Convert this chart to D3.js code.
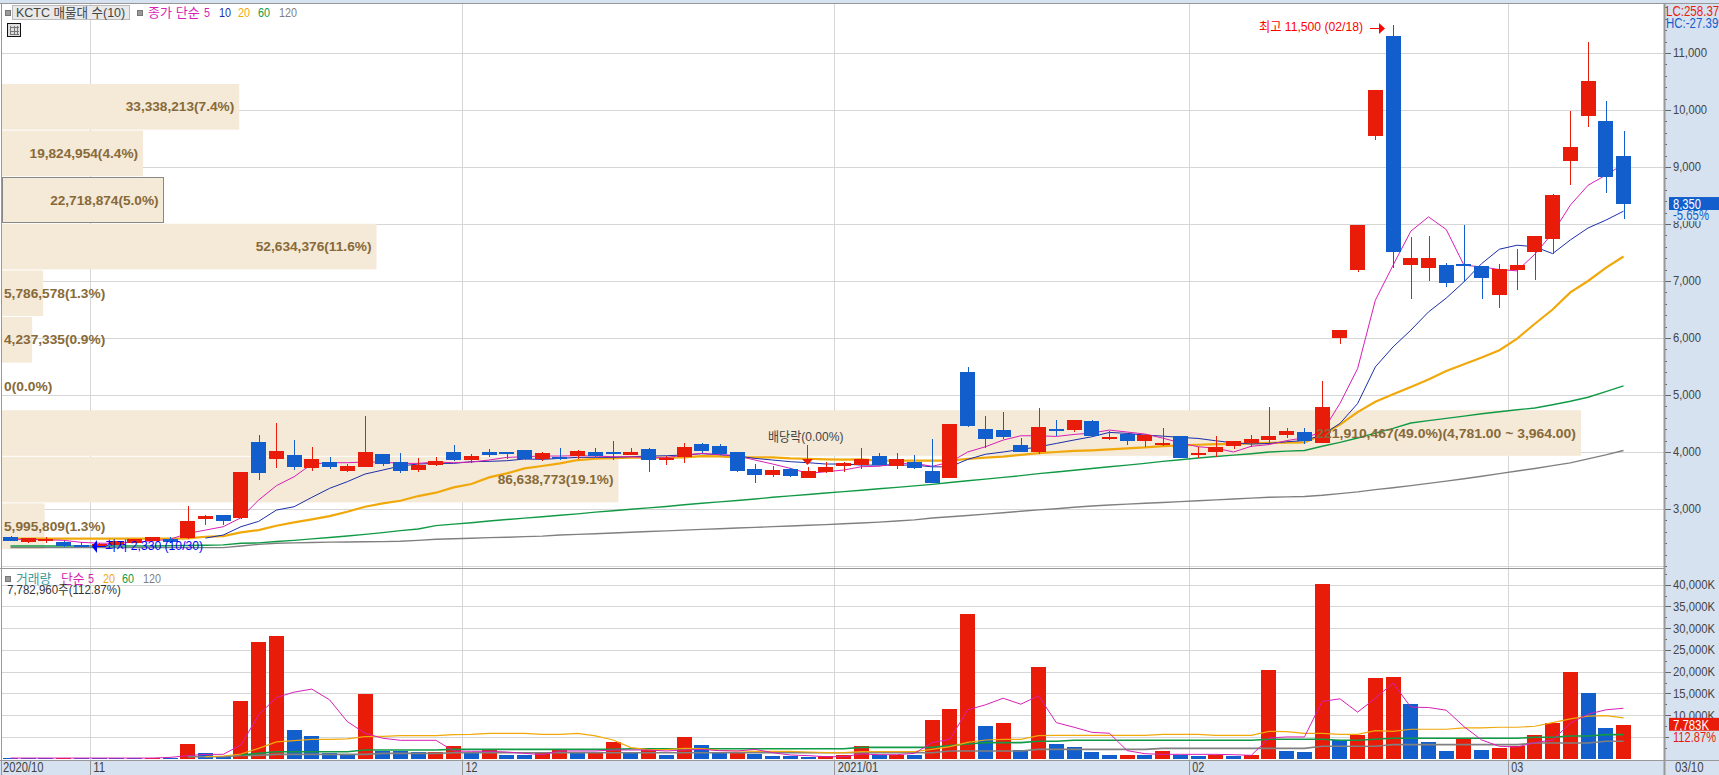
<!DOCTYPE html>
<html><head><meta charset="utf-8">
<script src="https://cdnjs.cloudflare.com/ajax/libs/d3/7.8.5/d3.min.js"></script>
<style>
html,body{margin:0;padding:0;background:#fff;overflow:hidden}
svg{display:block}
text{font-family:"Liberation Sans","Noto Sans CJK KR",sans-serif}
</style></head><body><svg id="c" width="1719" height="775"></svg>
<script>
const open=[2509,2421,2445,2427,2369,2370,2369,2404,2445,2473,2490,2824,2894,2841,4175,3877,3947,3719,3824,3666,3736,3964,3824,3683,3771,4000,3859,4000,4000,4035,3877,3912,3929,4000,4000,3947,4052,3859,3912,4140,4105,4000,3701,3596,3701,3543,3648,3754,3771,3930,3754,3824,3667,3544,5402,4402,4385,4121,4000,4402,4385,4542,4227,4315,4191,4121,4279,3950,4000,4104,4158,4210,4298,4350,4158,5996,7190,9541,11296,7277,7225,7277,7295,7260,6751,7190,7510,7738,9102,9892,9804,9190];
const close=[2445,2486,2480,2351,2340,2385,2439,2468,2509,2421,2788,2876,2788,3648,3631,4017,3736,3877,3736,3754,4000,3789,3666,3771,3842,3859,3929,3947,3988,3877,3982,3877,4017,3929,3964,4000,3859,3894,4087,4017,3964,3666,3596,3684,3578,3666,3736,3807,3877,3770,3877,3720,3456,4490,4455,4227,4262,4000,4437,4367,4560,4279,4262,4191,4297,4156,3895,3980,4085,4191,4228,4280,4368,4193,4781,6137,7979,10349,7505,7400,7400,6961,7260,7049,7207,7277,7790,8509,9348,10506,8822,8350];
const high=[2520,2500,2510,2430,2420,2400,2445,2475,2515,2508,3052,2894,2894,3648,4298,4508,4210,4087,3912,3789,4631,3964,3982,3894,3912,4122,3964,4052,4005,4035,4000,4070,4035,4070,4192,4070,4070,3929,4157,4157,4140,4000,3789,3754,3719,3736,3824,3824,4063,3985,3987,3950,4227,4490,5490,4630,4700,4244,4771,4560,4560,4560,4367,4315,4315,4420,4279,4085,4279,4191,4298,4781,4420,4420,5241,6137,7979,10349,11500,7769,7786,7312,7979,7260,7295,7558,7790,8530,9980,11191,10155,9629];
const low=[2440,2400,2400,2340,2330,2350,2360,2400,2440,2410,2480,2718,2718,2824,3508,3719,3683,3666,3701,3648,3736,3754,3631,3648,3754,3842,3806,3912,3877,3859,3842,3859,3877,3912,3859,3947,3648,3771,3806,3982,3947,3648,3455,3561,3561,3543,3631,3648,3702,3770,3702,3702,3456,3544,4437,4063,4227,4000,3965,4279,4350,4279,4209,4121,4086,4104,3895,3895,3912,4044,4088,4140,4245,4140,4158,5891,7154,9471,7230,6680,6996,6891,6985,6680,6523,6838,7010,7470,8681,9699,8541,8085];

const ma5=[2468,2468,2460,2450,2415,2400,2398,2421,2440,2468,2572,2630,2689,2847,3157,3409,3566,3789,3812,3812,3824,3824,3800,3800,3824,3812,3824,3859,3906,3917,3929,3929,3935,3929,3917,3917,3900,3900,3947,3976,3953,3935,3859,3789,3713,3625,3654,3683,3742,3750,3800,3800,3750,3820,4000,4092,4209,4285,4285,4273,4308,4332,4385,4350,4315,4244,4162,4092,4069,4000,4100,4130,4200,4250,4350,4850,5464,6663,7277,7874,8125,7903,7277,7248,7201,7178,7470,7840,8330,8680,8857,9050];
const ma10=[null,null,null,null,null,null,null,null,null,null,null,2490,2543,2689,2783,2981,3040,3204,3362,3479,3613,3683,3754,3789,3800,3800,3830,3836,3847,3877,3871,3888,3906,3906,3906,3917,3929,3935,3947,3970,3953,3929,3888,3859,3830,3812,3789,3789,3771,3770,3770,3770,3740,3740,3870,3960,4000,4045,4090,4150,4210,4267,4344,4326,4297,4279,4256,4238,4197,4160,4140,4150,4180,4200,4300,4500,4850,5493,5844,6137,6458,6700,6985,7307,7558,7628,7600,7480,7720,7930,8067,8225];
const ma20=[2480,2480,2480,2480,2480,2480,2480,2480,2480,2480,2484,2513,2525,2590,2630,2706,2765,2818,2876,2952,3040,3098,3145,3227,3286,3379,3438,3555,3625,3713,3754,3800,3859,3882,3894,3900,3900,3900,3906,3929,3923,3906,3906,3906,3888,3882,3871,3865,3871,3850,3850,3850,3850,3850,3880,3900,3920,3950,3980,4000,4020,4030,4045,4063,4080,4104,4115,4127,4139,4140,4150,4160,4165,4170,4300,4480,4700,4880,5013,5142,5270,5423,5540,5657,5786,5990,6250,6500,6800,7000,7230,7430];
const ma60=[2351,2351,2351,2351,2351,2351,2351,2351,2352,2355,2360,2365,2370,2398,2405,2430,2450,2475,2500,2527,2555,2585,2620,2650,2708,2735,2760,2790,2815,2840,2865,2890,2915,2945,2970,2995,3020,3045,3075,3100,3125,3150,3175,3205,3230,3255,3280,3305,3330,3355,3380,3405,3432,3465,3495,3525,3555,3585,3620,3650,3680,3710,3740,3770,3800,3835,3865,3895,3920,3945,3970,4000,4015,4026,4100,4170,4245,4330,4415,4509,4550,4590,4630,4670,4705,4740,4772,4830,4890,4960,5060,5160];
const ma120=[2322,2322,2322,2322,2322,2322,2322,2322,2322,2322,2322,2322,2322,2350,2380,2398,2405,2412,2418,2420,2425,2427,2435,2450,2468,2478,2488,2497,2505,2515,2525,2544,2555,2567,2580,2592,2605,2617,2630,2642,2654,2666,2678,2690,2702,2714,2726,2740,2755,2770,2790,2810,2842,2865,2885,2910,2935,2960,2985,3005,3030,3053,3070,3085,3100,3115,3130,3145,3160,3175,3190,3205,3212,3219,3240,3270,3300,3340,3374,3410,3450,3490,3530,3575,3620,3667,3710,3760,3810,3880,3950,4026];

const volume=[150,120,120,200,150,150,150,150,120,220,3385,1230,540,13300,26800,28200,6600,5230,1300,900,14900,1850,1850,1540,1540,2900,1300,2150,850,850,1300,2150,1540,1540,3850,1230,1900,850,5000,3150,1540,1540,1080,620,620,400,620,850,2900,920,920,850,8900,11450,33260,7540,8300,1900,21150,3400,2700,1540,850,850,850,1770,850,620,920,620,770,20450,1770,1540,40200,4300,5460,18600,18850,12600,3850,1770,4600,2000,2460,2900,5460,8230,20000,15150,7080,7783];
const volumeDir="BBBRBBBBRBRBBRRRBBBBRBBBRRBRBBRRBRRBRBRBBRBBBBRRRBRBRRRBRBRBBBBRBRBBRBRRBBRBRRRBBBRBRRRRRBBR".slice(0,92).split("");
const volMa5=[150,150,150,150,150,150,150,150,150,300,700,1000,1000,3150,10070,14070,15300,16000,13540,8540,5850,4700,4230,4230,4230,1770,1700,1700,1540,1230,920,1770,1770,1770,2000,2000,2000,1770,2000,2150,1850,1770,2150,1380,850,700,460,460,1080,920,920,1230,3700,4460,11230,12380,13900,12530,14460,8300,7230,6070,5850,1850,1150,1000,1000,1000,1000,920,770,4770,5000,5000,13150,13770,10700,13900,17400,11850,11770,11150,7380,4300,2850,2700,3700,4300,8150,10230,11230,11600];
const volMa20=[null,null,null,null,null,null,null,null,null,null,null,460,620,1080,2380,3850,4150,4460,4460,4540,5080,5150,5300,5300,5300,5540,5610,5840,5840,5840,5610,5610,5840,5230,4300,2540,2080,2080,2380,2300,1920,1770,1690,1690,1690,1540,1380,1380,1610,1610,1610,1610,2150,2770,3770,4300,4460,4460,5300,5380,5380,5380,5380,5380,5380,5610,5610,5610,5380,5380,5380,6300,6230,5840,5840,5610,5610,6460,6300,6770,6770,6770,7070,7070,7230,7230,7460,8300,9150,9770,9920,9380];
const volMa60=[null,null,null,null,null,null,null,null,null,null,null,null,null,850,1230,1610,1610,1610,1610,1610,2000,2000,2000,2000,2000,2150,2150,2150,2150,2150,2150,2150,2150,2150,2150,2300,2300,2300,2300,2300,2300,2300,2300,2300,2300,2300,2300,2300,2610,2610,2610,2610,2610,3000,3380,3690,3690,3690,4000,4000,4230,4230,4230,4230,4230,4230,4230,4230,4230,4230,4230,4460,4460,4460,4460,4230,4230,4460,4690,4690,4690,4690,4690,4690,4690,4690,4920,4920,5230,5230,5540,5540];
const volMa120=[null,null,null,null,null,null,null,null,null,null,460,460,460,770,770,1000,1000,1000,1000,1000,1000,1230,1230,1230,1230,1380,1380,1380,1380,1380,1380,1380,1380,1380,1380,1380,1380,1380,1380,1380,1380,1380,1380,1380,1380,1380,1380,1380,1380,1380,1380,1380,1380,1770,1770,1770,1770,1770,2150,2150,2150,2150,2150,2150,2150,2380,2380,2380,2380,2380,2380,2380,2380,2380,2850,2850,2850,2850,3230,3230,3230,3230,3230,3230,3230,3230,3610,3610,3610,3610,4000,4000];

const profileVolume=[33338213,19824954,22718874,52634376,5786578,4237335,0,221910467,86638773,5995809];
const profilePercent=["7.4","4.4","5.0","11.6","1.3","0.9","0.0","49.0","19.1","1.3"];
const profileTop=[10456,9639,8821,8004,7186,6368,5551,4733,3916,3098];
const profileSuffix=["","","","","","","","(4,781.00 ~ 3,964.00)","",""];
const profileStep=817.6;

const priceTicks=[11000,10000,9000,8000,7000,6000,5000,4000,3000];
const priceMinor=d3.range(2000,11801,200);
const volTicks=[40000,35000,30000,25000,20000,15000,10000,5000];
const volMinor=d3.range(2500,42501,2500);
const monthIdx=[5,26,47,67,85];
const monthLabels=["11","12","2021/01","02","03"];
const priceLegend=[["종가 단순","#d81fb4",148],["5","#d81fb4",204],["10","#1c2fa8",219],["20","#f0a80a",238],["60","#119a45",258],["120","#808080",279]];
const volLegend=[["거래량","#3a9a9c",16],["단순","#d81fb4",61],["5","#d81fb4",88],["20","#f0a80a",103],["60","#119a45",122],["120","#808080",143]];

const RED="#e91c0a",BLUE="#125ecc",GRID="#d6d6d6",PANEL="#d7e2f0",AX="#989898";
const svg=d3.select("#c");
const idx=d3.range(92);
const x=d3.scalePoint().domain(idx).range([10.5,1623.5]);
const step=x.step(), bw=15;
const y=d3.scaleLinear().domain([11000,3000]).range([53,509]);
const yv=d3.scaleLinear().domain([0,40000]).range([758.7,584.7]);
const px=d3.scaleLinear().domain([0,221910467]).range([2,1581]);
const R=1664;

svg.append("rect").attr("x",0).attr("y",0).attr("width",1719).attr("height",775).attr("fill","#fff");
svg.append("rect").attr("x",0).attr("y",0).attr("width",1719).attr("height",3).attr("fill",PANEL);
svg.append("rect").attr("x",R).attr("y",3).attr("width",55).attr("height",772).attr("fill",PANEL);
svg.append("rect").attr("x",0).attr("y",760).attr("width",1719).attr("height",15).attr("fill",PANEL);

// grid
const g=svg.append("g").attr("shape-rendering","crispEdges").attr("stroke",GRID).attr("stroke-width",1);
[...priceTicks,2000].forEach(t=>g.append("line").attr("x1",2).attr("x2",R).attr("y1",Math.round(y(t))+.5).attr("y2",Math.round(y(t))+.5));
volTicks.forEach(t=>g.append("line").attr("x1",2).attr("x2",R).attr("y1",Math.round(yv(t))+.5).attr("y2",Math.round(yv(t))+.5));
monthIdx.forEach(i=>g.append("line").attr("x1",x(i)-step/2).attr("x2",x(i)-step/2).attr("y1",3).attr("y2",760));

// volume profile
const prof=svg.append("g");
prof.selectAll("rect").data(profileVolume).join("rect")
 .attr("x",2).attr("y",(d,i)=>y(profileTop[i])).attr("width",d=>px(d)-2)
 .attr("height",(d,i)=>y(profileTop[i]-profileStep)-y(profileTop[i])-1).attr("fill","#f5e9d8");
prof.append("rect").attr("x",2).attr("y",y(profileTop[2])).attr("width",px(profileVolume[2])-2)
 .attr("height",y(profileTop[2]-profileStep)-y(profileTop[2])-1).attr("fill","none").attr("stroke","#888").attr("shape-rendering","crispEdges");

// price MAs
const line=(yy)=>d3.line().defined(d=>d!==null).x((d,i)=>x(i)).y(d=>yy(d));
const lines=svg.append("g").attr("fill","none");
[[ma120,"#808080",1.4],[ma60,"#119a45",1.4],[ma20,"#f0a80a",2.2],[ma10,"#1c2fa8",1],[ma5,"#d81fb4",1]].forEach(([a,c,w])=>{
 lines.append("path").attr("d",line(y)(a)).attr("stroke",c).attr("stroke-width",w);
});

// candles
const cs=svg.append("g").attr("shape-rendering","crispEdges");
idx.forEach(i=>{
 const up=close[i]>=open[i], c=up?RED:BLUE;
 const t=y(Math.max(open[i],close[i])), b=y(Math.min(open[i],close[i]));
 cs.append("line").attr("x1",Math.round(x(i))+.5).attr("x2",Math.round(x(i))+.5).attr("y1",y(high[i])).attr("y2",y(low[i])).attr("stroke",c).attr("stroke-width",1);
 cs.append("rect").attr("x",x(i)-bw/2).attr("y",t).attr("width",bw).attr("height",Math.max(1.5,b-t)).attr("fill",c);
});

// profile labels
const fmt=d3.format(",");
const narrowBar=d=>px(d)<110;
svg.append("g").selectAll("text").data(profileVolume).join("text")
 .attr("x",d=>narrowBar(d)?4:px(d)-5).attr("y",(d,i)=>(y(profileTop[i])+y(profileTop[i]-profileStep))/2+4)
 .attr("text-anchor",d=>narrowBar(d)?"start":"end")
 .attr("font-size",13).attr("font-weight","bold").attr("fill","#876a38")
 .text((d,i)=>fmt(d)+"("+profilePercent[i]+"%)"+profileSuffix[i]);

// volume bars
const vb=svg.append("g").attr("shape-rendering","crispEdges");
vb.selectAll("rect").data(volume).join("rect")
 .attr("x",(d,i)=>x(i)-bw/2).attr("width",bw).attr("y",d=>yv(d)).attr("height",d=>yv(0)-yv(d))
 .attr("fill",(d,i)=>volumeDir[i]==="R"?RED:BLUE);
const vl=svg.append("g").attr("fill","none");
[[volMa120,"#808080",1.6],[volMa60,"#119a45",1.6],[volMa20,"#f0a80a",1.2],[volMa5,"#d81fb4",1]].forEach(([a,c,w])=>{
 vl.append("path").attr("d",line(yv)(a)).attr("stroke",c).attr("stroke-width",w);
});

// frame
const fr=svg.append("g").attr("shape-rendering","crispEdges").attr("stroke",AX);
fr.append("line").attr("x1",0).attr("x2",1719).attr("y1",3.5).attr("y2",3.5);
fr.append("line").attr("x1",1.5).attr("x2",1.5).attr("y1",3).attr("y2",775);
fr.append("line").attr("x1",0).attr("x2",R).attr("y1",568.5).attr("y2",568.5).attr("stroke-width",1.5);
fr.append("line").attr("x1",0).attr("x2",1719).attr("y1",760.5).attr("y2",760.5);

// axes
function styleAxis(s){s.select(".domain").remove();s.selectAll("line").attr("stroke","#666").attr("shape-rendering","crispEdges");
 s.selectAll("text").attr("fill","#444").attr("font-size",12.4);}
const gp=svg.append("g").attr("transform",`translate(${R},0)`);
gp.append("g").call(d3.axisRight(y).tickValues(priceMinor).tickSize(3).tickFormat("")).call(styleAxis);
gp.append("g").call(d3.axisRight(y).tickValues(priceTicks).tickSize(7).tickPadding(2).tickFormat(d3.format(","))).call(styleAxis);
const gv=svg.append("g").attr("transform",`translate(${R},0)`);
gv.append("g").call(d3.axisRight(yv).tickValues(volMinor).tickSize(3).tickFormat("")).call(styleAxis);
gv.append("g").call(d3.axisRight(yv).tickValues(volTicks).tickSize(7).tickPadding(2).tickFormat(d=>d3.format(",")(d)+"K")).call(styleAxis);
svg.selectAll("g[font-family]").attr("font-family",null).attr("font-size",null);
svg.append("line").attr("x1",R+.5).attr("x2",R+.5).attr("y1",3).attr("y2",775).attr("stroke",AX).attr("stroke-width",2);

// date axis
const tx=(s,xx,yy,c,fs)=>svg.append("text").attr("x",xx).attr("y",yy).attr("fill",c).attr("font-size",fs||14).text(s);
tx("2020/10",3,772,"#444");
monthIdx.forEach((m,k)=>{const xx=x(m)-step/2;
 svg.append("line").attr("x1",xx).attr("x2",xx).attr("y1",760).attr("y2",775).attr("stroke",AX).attr("shape-rendering","crispEdges");
 tx(monthLabels[k],xx+3,772,"#444");});
tx("03/10",1675,772,"#444");

// value boxes
const lastPriceY=y(close[91]);
svg.append("rect").attr("x",1669).attr("y",lastPriceY-7).attr("width",50).attr("height",13).attr("fill",BLUE);
tx(d3.format(",")(close[91]),1673,lastPriceY+4.5,"#fff",14);
svg.append("rect").attr("x",1669).attr("y",lastPriceY+6).attr("width",50).attr("height",11).attr("fill",PANEL);
tx("-5.65%",1673,lastPriceY+16,"#125ecc",14);
const lastVolY=yv(volume[91]);
svg.append("rect").attr("x",1669).attr("y",lastVolY-7).attr("width",50).attr("height",13).attr("fill",RED);
tx("7,783K",1673,lastVolY+5,"#fff",14);
svg.append("rect").attr("x",1669).attr("y",lastVolY+6).attr("width",50).attr("height",12).attr("fill",PANEL);
tx("112.87%",1673,lastVolY+17,"#e91c0a",14);
tx("LC:258.37%",1666,16,"#e91c0a",14);
tx("HC:-27.39%",1666,28,"#125ecc",14);

// legend
const sq=(xx,yy)=>svg.append("rect").attr("x",xx).attr("y",yy).attr("width",5).attr("height",5).attr("fill","#999").attr("stroke","#777").attr("shape-rendering","crispEdges");
sq(5.5,10.5);
svg.append("rect").attr("x",12.5).attr("y",5.5).attr("width",117).attr("height",14).attr("fill","#e9e9e9").attr("stroke","#bbb").attr("shape-rendering","crispEdges");
tx("KCTC 매물대 수(10)",16,17,"#444",13);
sq(137.5,10.5);
priceLegend.forEach(([s,c,xx])=>tx(s,xx,17,c,13));
sq(5.5,576.5);
volLegend.forEach(([s,c,xx])=>tx(s,xx,583,c,13));
tx("7,782,960주(112.87%)",7,594,"#333",13);

// icon
const ic=svg.append("g").attr("shape-rendering","crispEdges");
ic.append("rect").attr("x",7.5).attr("y",23.5).attr("width",13).attr("height",13).attr("fill","#ddd").attr("stroke","#111");
[[9.5,26.5,9,1],[9.5,30.5,9,1],[9.5,34,9,1]].forEach(a=>ic.append("rect").attr("x",a[0]).attr("y",a[1]).attr("width",a[2]).attr("height",a[3]).attr("fill","#777"));
[10,13.5,17].forEach(v=>ic.append("rect").attr("x",v).attr("y",26).attr("width",1).attr("height",9).attr("fill","#777"));

// annotations
tx("최고 11,500 (02/18)",1259,31,"#f00",13);
svg.append("line").attr("x1",1370).attr("x2",1380).attr("y1",28.5).attr("y2",28.5).attr("stroke","#f00");
svg.append("path").attr("d","M1379,23L1385,28.5L1379,34Z").attr("fill","#f00");
tx("최저 2,330 (10/30)",105,550,"#00f",13);
svg.append("line").attr("x1",96).attr("x2",106).attr("y1",546.5).attr("y2",546.5).attr("stroke","#00f");
svg.append("path").attr("d","M92,546.5L97,540L97,553Z").attr("fill","#00f");
tx("배당락(0.00%)",768,441,"#444",13);
svg.append("line").attr("x1",807.5).attr("x2",807.5).attr("y1",445).attr("y2",462).attr("stroke","#e91c0a").attr("shape-rendering","crispEdges");
svg.append("path").attr("d","M802,459L813,459L807.5,465Z").attr("fill","#e91c0a");

// Fit every label to the narrow bitmap-font widths of the source terminal.
function charW(c,bold){
 if(/[\uAC00-\uD7A3]/.test(c))return 11.8;
 if(/[0-9]/.test(c))return bold?7.3:6;
 if(c===","||c===".")return bold?4.5:4;
 if(c==="("||c===")")return bold?5.5:4.5;
 if(c==="/"||c===":")return 4.5;
 if(c==="%")return bold?11:9;
 if(c===" ")return bold?6:4.5;
 if(c==="~")return 8;
 if(c==="-")return 5;
 if(/[A-Z]/.test(c))return 8;
 return 6;
}
svg.selectAll("text").each(function(){
 const s=d3.select(this), t=s.text(); if(!t)return;
 const bold=s.attr("font-weight")==="bold";
 const w=Array.from(t).reduce((a,c)=>a+charW(c,bold),0);
 s.attr("textLength",w).attr("lengthAdjust","spacingAndGlyphs");
});
</script></body></html>
